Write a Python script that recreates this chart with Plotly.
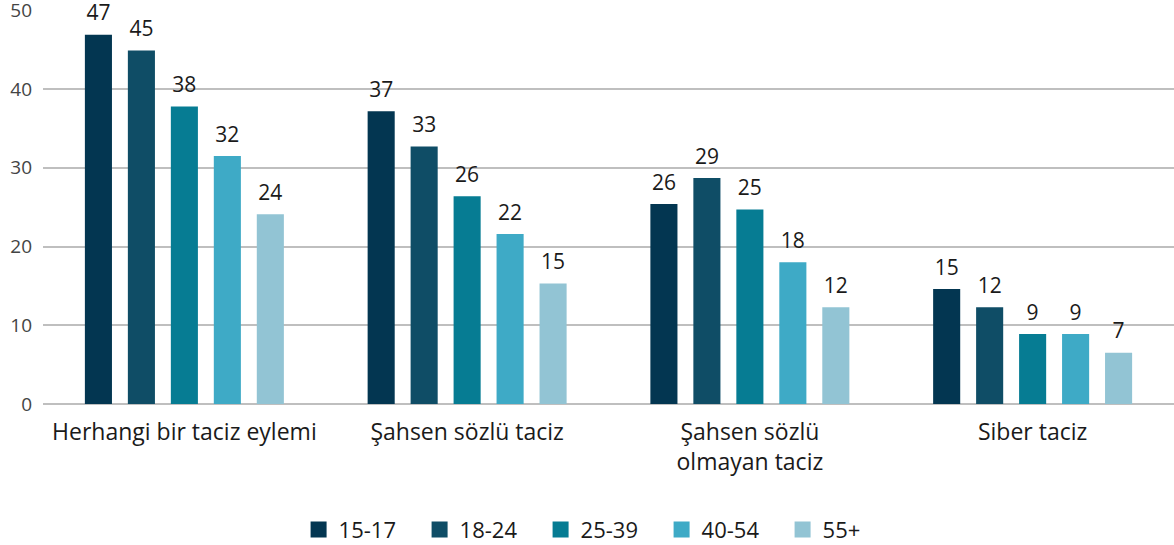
import plotly.graph_objects as go

categories = ["Herhangi bir taciz eylemi", "Şahsen sözlü taciz", "Şahsen sözlü<br>olmayan taciz", "Siber taciz"]
series_names = ["15-17", "18-24", "25-39", "40-54", "55+"]
colors = ["#033651", "#0f4d66", "#067c93", "#3eaac6", "#92c4d4"]

# values per age group across categories
v_15_17 = [46.9, 37.2, 25.4, 14.6]
v_18_24 = [44.9, 32.7, 28.7, 12.3]
v_25_39 = [37.8, 26.4, 24.7, 8.9]
v_40_54 = [31.5, 21.6, 18.0, 8.9]
v_55p = [24.1, 15.3, 12.3, 6.5]

l_15_17 = ["47", "37", "26", "15"]
l_18_24 = ["45", "33", "29", "12"]
l_25_39 = ["38", "26", "25", "9"]
l_40_54 = ["32", "22", "18", "9"]
l_55p = ["24", "15", "12", "7"]

values = [v_15_17, v_18_24, v_25_39, v_40_54, v_55p]
labels = [l_15_17, l_18_24, l_25_39, l_40_54, l_55p]

y_ticks = [0, 10, 20, 30, 40, 50]

FONT = "Open Sans"

fig = go.Figure()
for i, (name, col, vals) in enumerate(zip(series_names, colors, values)):
    fig.add_trace(go.Bar(
        x=categories, y=vals, name=name, marker_color=col,
        marker_line_width=0, offsetgroup=str(i), showlegend=False,
        hoverinfo="skip",
    ))
for i, (name, vals, labs) in enumerate(zip(series_names, values, labels)):
    fig.add_trace(go.Scatter(
        x=categories, y=vals, mode="markers+text", text=labs,
        textposition="top center", offsetgroup=str(i), showlegend=False,
        marker=dict(size=13, opacity=0), cliponaxis=False, hoverinfo="skip",
        textfont=dict(family=FONT, size=21, color="#1a1a1a"),
    ))
# legend entries
for name, col in zip(series_names, colors):
    fig.add_trace(go.Scatter(
        x=[None], y=[None], mode="markers", name=name,
        marker=dict(symbol="square", size=19, color=col),
    ))

fig.update_layout(
    width=1174, height=545,
    margin=dict(l=43, r=0, t=10, b=141),
    paper_bgcolor="white", plot_bgcolor="white",
    barmode="group", bargap=0.24, bargroupgap=0.37,
    scattermode="group", scattergap=0.24,
    font=dict(family=FONT, color="#1a1a1a"),
    showlegend=True,
    legend=dict(orientation="h", x=0.512, xanchor="center", xref="container",
                y=0.028, yanchor="middle", yref="container",
                font=dict(family=FONT, size=22, color="#1a1a1a"),
                entrywidth=76, entrywidthmode="pixels", itemclick=False,
                traceorder="normal"),
)
fig.update_xaxes(showgrid=False, showline=False, ticks="", automargin=False,
                 tickfont=dict(family=FONT, size=23, color="#1a1a1a"),
                 ticklabelstandoff=12)
fig.update_yaxes(range=[0, 50.05], tickvals=y_ticks, showgrid=True, gridcolor="#bfbfbf", gridwidth=2,
                 zeroline=True, zerolinecolor="#bfbfbf", zerolinewidth=2, automargin=False,
                 showline=False, ticks="", ticklabelstandoff=10, ticklabeloverflow="allow",
                 tickfont=dict(family=FONT, size=19, color="#444444"))

fig.write_html("out.html", config={"displayModeBar": False, "staticPlot": True},
               post_script="document.body.style.margin='0';document.body.style.overflow='hidden';")
